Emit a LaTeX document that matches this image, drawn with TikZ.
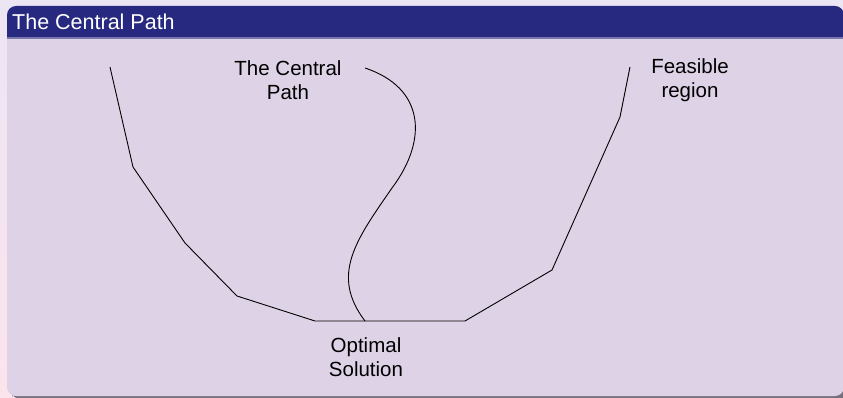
\documentclass[tikz,border=0pt]{standalone}
\usepackage{fontspec}
\setmainfont{Liberation Sans}
\definecolor{pagetop}{HTML}{ECE5F4}
\definecolor{pagebot}{HTML}{FBE4EC}
\definecolor{titlebg}{HTML}{27287F}
\definecolor{bodybg}{HTML}{DED3E6}
\definecolor{shadowc}{HTML}{77707D}
\tikzset{
  lbl/.style={align=center, font=\fontsize{20.5}{24.5}\selectfont, text=black, inner sep=0pt},
  edge/.style={draw=black, line width=0.9pt},
}
\begin{document}
\begin{tikzpicture}[x=1pt,y=-1pt]
\useasboundingbox (0,0) rectangle (843,398);
\shade[top color=pagetop, bottom color=pagebot] (0,0) rectangle (843,398);
% shadow
\fill[shadowc, rounded corners=8pt] (12,390) rectangle (850,399);
% body
\fill[bodybg, rounded corners=9pt] (7,30) rectangle (844,396);
% title
\fill[titlebg, rounded corners=9pt] (7,38) -- (7,6) -- (844,6) -- (844,38) [sharp corners] -- cycle;
\fill[titlebg] (7,30) rectangle (844,37.5);
\fill[titlebg!55!bodybg] (7,37) rectangle (844,39.5);
\node[anchor=base west, font=\fontsize{21.5}{24}\selectfont, text=white, inner sep=0pt] (title) at (12,30) {The Central Path};

% feasible region boundary
\coordinate (p1) at (110,67);
\coordinate (p2) at (133,167);
\coordinate (p3) at (185,243);
\coordinate (p4) at (237,296);
\coordinate (p5) at (315,321);
\coordinate (p6) at (465,321);
\coordinate (p7) at (552,270);
\coordinate (p8) at (620,117);
\coordinate (p9) at (630,67);
\draw[edge] (p1) -- (p2) -- (p3) -- (p4) -- (p5) -- (p6) -- (p7) -- (p8) -- (p9);

% central path
\coordinate (c0) at (365,68);
\coordinate (c1) at (392,188);
\coordinate (opt) at (365,321);
\draw[edge] (c0) .. controls (425,88) and (428,140) .. (c1) .. controls (356,240) and (330,275) .. (opt);

\node[lbl] (cp) at (288,80) {The Central\\Path};
\node[lbl] (fr) at (690,80) {Feasible\\region};
\node[lbl] (os) at (366,357) {Optimal\\Solution};
\end{tikzpicture}
\end{document}
